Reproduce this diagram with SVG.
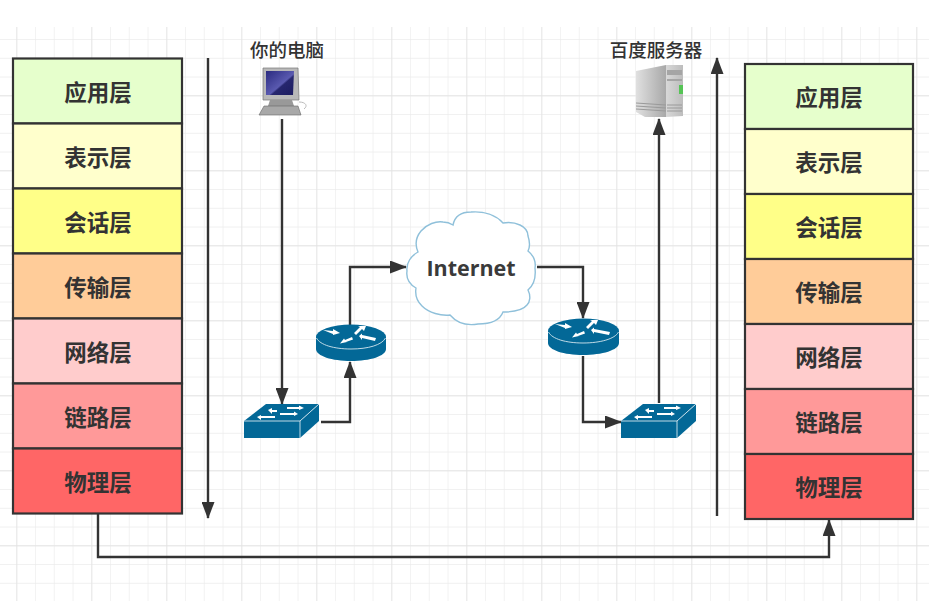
<svg xmlns="http://www.w3.org/2000/svg" width="929" height="603" viewBox="0 0 929 603">
<defs>
<pattern id="grid" x="16.3" y="20.3" width="18.75" height="18.75" patternUnits="userSpaceOnUse"><path d="M0 0V18.75M0 0H18.75" fill="none" stroke="#ececec" stroke-width="1.3"/></pattern>
<pattern id="grid2" x="16.3" y="20.3" width="75" height="75" patternUnits="userSpaceOnUse"><path d="M0 0V75M0 0H75" fill="none" stroke="#e2e2e2" stroke-width="1.4"/></pattern>
<marker id="arrow" markerUnits="userSpaceOnUse" markerWidth="17" markerHeight="13" refX="16" refY="6.500" orient="auto" viewBox="0 0 17 13"><path d="M0 0L17 6.500L0 13Z" fill="#333"/></marker>
<linearGradient id="scr" x1="0" y1="0" x2="1" y2="1"><stop offset="0" stop-color="#2a2a80"/><stop offset=".55" stop-color="#5a5ab0"/><stop offset=".6" stop-color="#26266e"/><stop offset="1" stop-color="#1c1c60"/></linearGradient>
<linearGradient id="srv" x1="0" y1="0" x2="1" y2="0"><stop offset="0" stop-color="#e0e0e0"/><stop offset="1" stop-color="#a8a8a8"/></linearGradient>
<linearGradient id="srv2" x1="0" y1="0" x2="1" y2="0"><stop offset="0" stop-color="#d8d8d8"/><stop offset="1" stop-color="#bdbdbd"/></linearGradient>
</defs>
<style>
.layer{stroke:#333;stroke-width:2.2}
.t{font-family:"Noto Sans CJK SC","Liberation Sans",sans-serif;font-weight:700;font-size:22.500px;fill:#333;text-anchor:middle}
.lbl{font-family:"Noto Sans CJK SC","Liberation Sans",sans-serif;font-weight:500;font-size:18.500px;fill:#333;text-anchor:middle}
.c{fill:none;stroke:#333;stroke-width:2.400;marker-end:url(#arrow)}
.blue{fill:#036897}
.edge{fill:none;stroke:#d5e6ee;stroke-width:.9}
.w{fill:#fff}
</style>
<rect width="929" height="603" fill="#fff"/>
<rect x="0" y="27" width="929" height="574" fill="url(#grid)"/>
<rect x="0" y="27" width="929" height="574" fill="url(#grid2)"/>

<g id="connectors">
<path class="c" d="M208 58V518"/>
<path class="c" d="M717 516V58"/>
<path class="c" d="M282 119V404"/>
<path class="c" d="M321 422H350V362"/>
<path class="c" d="M350 325V267H406"/>
<path class="c" d="M537 267H583V318"/>
<path class="c" d="M583 356V422H621"/>
<path class="c" d="M659 403V119"/>
<path class="c" d="M98 514V557H829V520"/>
</g>

<g id="left-stack">
<g id="l-app"><rect class="layer" x="13" y="58.500" width="169" height="65" fill="#e6ffcc"/><text class="t" x="98" y="100.500">应用层</text></g>
<g id="l-pres"><rect class="layer" x="13" y="123.500" width="169" height="65" fill="#ffffcc"/><text class="t" x="98" y="165.500">表示层</text></g>
<g id="l-sess"><rect class="layer" x="13" y="188.500" width="169" height="65" fill="#ffff88"/><text class="t" x="98" y="230.500">会话层</text></g>
<g id="l-trans"><rect class="layer" x="13" y="253.500" width="169" height="65" fill="#ffcc99"/><text class="t" x="98" y="295.500">传输层</text></g>
<g id="l-net"><rect class="layer" x="13" y="318.500" width="169" height="65" fill="#ffcccc"/><text class="t" x="98" y="360.500">网络层</text></g>
<g id="l-link"><rect class="layer" x="13" y="383.500" width="169" height="65" fill="#ff9999"/><text class="t" x="98" y="425.500">链路层</text></g>
<g id="l-phys"><rect class="layer" x="13" y="448.500" width="169" height="65" fill="#ff6666"/><text class="t" x="98" y="490.500">物理层</text></g>
</g>

<g id="right-stack">
<g id="r-app"><rect class="layer" x="745" y="64" width="168" height="65" fill="#e6ffcc"/><text class="t" x="829" y="105.500">应用层</text></g>
<g id="r-pres"><rect class="layer" x="745" y="129" width="168" height="65" fill="#ffffcc"/><text class="t" x="829" y="170.500">表示层</text></g>
<g id="r-sess"><rect class="layer" x="745" y="194" width="168" height="65" fill="#ffff88"/><text class="t" x="829" y="235.500">会话层</text></g>
<g id="r-trans"><rect class="layer" x="745" y="259" width="168" height="65" fill="#ffcc99"/><text class="t" x="829" y="300.500">传输层</text></g>
<g id="r-net"><rect class="layer" x="745" y="324" width="168" height="65" fill="#ffcccc"/><text class="t" x="829" y="365.500">网络层</text></g>
<g id="r-link"><rect class="layer" x="745" y="389" width="168" height="65" fill="#ff9999"/><text class="t" x="829" y="430.500">链路层</text></g>
<g id="r-phys"><rect class="layer" x="745" y="454" width="168" height="65" fill="#ff6666"/><text class="t" x="829" y="495.500">物理层</text></g>
</g>

<g id="pc">
<text class="lbl" x="287" y="57">你的电脑</text>
<path d="M263 68H298L299 100H263Z" fill="#b9b9b9" stroke="#777" stroke-width=".7"/>
<path d="M266 71H294L293 95H266Z" fill="url(#scr)"/>
<path d="M270 100H292L294 106H268Z" fill="#999"/>
<path d="M264 106H298L301 115H259Z" fill="#a8a8a8" stroke="#666" stroke-width=".6"/>
<path d="M299 102C306 102 308 106 304 109" fill="none" stroke="#bbb" stroke-width="1"/>
</g>

<g id="server">
<text class="lbl" x="656" y="57">百度服务器</text>
<path d="M636 71L666 65V117H645L636 112Z" fill="url(#srv)"/>
<path d="M666 65H683V116L666 117Z" fill="url(#srv2)"/>
<path d="M667 70H682V75H667ZM667 79H682V81H667Z" fill="#a5a5a5"/>
<rect x="679" y="85" width="4" height="9" fill="#55c455"/>
<path d="M636 103L666 105M636 106L666 108M636 109L666 111M667 105H682M667 108H682M667 111H682" stroke="#9a9a9a" stroke-width="1.2"/>
</g>

<g id="cloud">
<path d="M453 225C455 215 463 212 471 212C484 211 496 215 503 223C515 221 528 226 528 236C530 242 530 247 528 251C534 256 536 262 535 268C536 277 534 285 528 290C531 296 530 302 527 305C523 310 513 312 503 312C500 320 491 324 478 324C466 326 456 322 450 315C441 316 429 313 422 306C417 301 415 294 416 288C409 284 406 278 407 271C406 263 411 256 418 252C415 245 416 237 421 231C427 224 436 221 443 222C447 222 450 223 453 225Z" fill="#fff" stroke="#8fc0da" stroke-width="1.400"/>
<text x="471" y="276" font-family="'Open Sans','Noto Sans','Liberation Sans',sans-serif" font-weight="700" font-size="21.500" fill="#3a3a3a" text-anchor="middle">Internet</text>
</g>

<g id="router-left">
<path class="blue" d="M316 337V349C316 356 332 361 351 361S386 356 386 349V337Z"/>
<ellipse class="blue" cx="351" cy="337" rx="35" ry="12.500"/>
<path class="edge" d="M316.500 338C320 345 334 349 351 349S382 345 385.500 338"/>
<path class="w" d="M323 330L333 331L333 329L340 333L333 335L333 334ZM347 342L340 343.500L344 338.500L345 340L352 337L353 339.500L346 342ZM354 333L360 327L358 326L366 326L364 331L362 329L356 335ZM359 336L362 333.500L362 335L376 338L375 341L362 338L362 340Z"/>
</g>

<g id="router-right">
<path class="blue" d="M548 331V343C548 350 564 355 583 355S619 350 619 343V331Z"/>
<ellipse class="blue" cx="583.500" cy="331" rx="35.500" ry="12.500"/>
<path class="edge" d="M548.500 332C552 339 566 343 583 343S615 339 618.500 332"/>
<path class="w" d="M555 324L565 325L565 323L572 327L565 329L565 328ZM579 336L572 337.500L576 332.500L577 334L584 331L585 333.500L578 336ZM586 327L592 321L590 320L598 320L596 325L594 323L588 329ZM591 330L594 327.500L594 329L610 332L609 335L594 332L594 334Z"/>
</g>

<g id="switch-left">
<path class="blue" d="M244 421H300V438H244Z"/>
<path class="blue" d="M244 421L266 404H319L300 421Z"/>
<path class="blue" d="M300 421L319 404V421L300 438Z"/>
<path class="edge" d="M244 421H300L319 404M300 421V438"/>
<path class="w" d="M268 410L272 408V410H277V412H272V414ZM287 407H299V405.500L304 408L299 410V409H287ZM257 417L261 415V416H275V418H261V420ZM280 413H294V411.500L298 414L294 416V415H280Z"/>
</g>

<g id="switch-right">
<path class="blue" d="M621 421H677V438H621Z"/>
<path class="blue" d="M621 421L643 404H696L677 421Z"/>
<path class="blue" d="M677 421L696 404V421L677 438Z"/>
<path class="edge" d="M621 421H677L696 404M677 421V438"/>
<path class="w" d="M645 410L649 408V410H654V412H649V414ZM664 407H676V405.500L681 408L676 410V409H664ZM634 417L638 415V416H652V418H638V420ZM657 413H671V411.500L675 414L671 416V415H657Z"/>
</g>
</svg>
